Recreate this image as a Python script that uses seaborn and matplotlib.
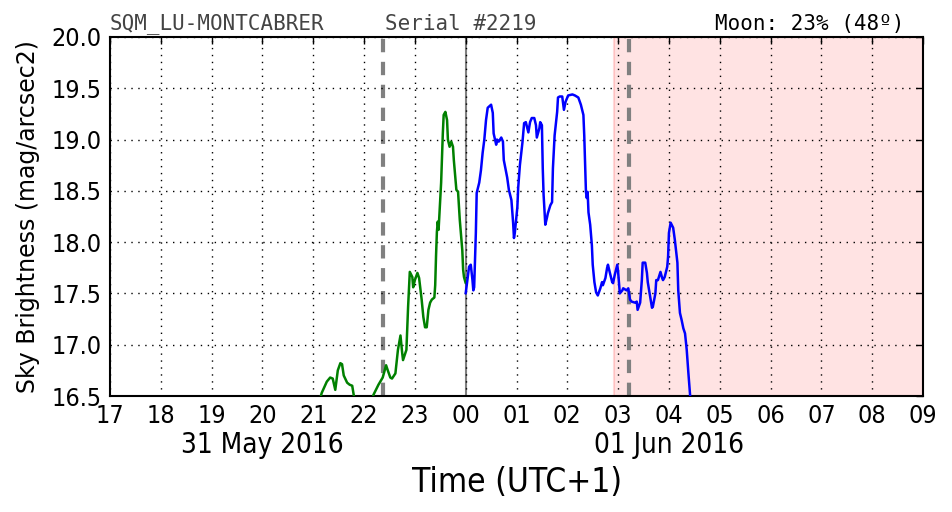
import numpy as np
import pandas as pd
import matplotlib
matplotlib.use("Agg")
import matplotlib.pyplot as plt
import matplotlib.dates as mdates
import matplotlib.transforms as mtransforms
import seaborn as sns

# ---------------- data ----------------
green_times = ["21:07", "21:09", "21:10", "21:16", "21:20", "21:23", "21:26", "21:29", "21:32", "21:34",
               "21:36", "21:40", "21:43", "21:46", "21:48", "21:50", "22:09", "22:11", "22:17", "22:22",
               "22:26", "22:28", "22:31", "22:33", "22:37", "22:40", "22:43", "22:45", "22:46", "22:50",
               "22:52", "22:54", "22:57", "22:58", "23:00", "23:03", "23:05", "23:08", "23:10", "23:12",
               "23:14", "23:16", "23:18", "23:20", "23:23", "23:24", "23:25", "23:26", "23:27", "23:28",
               "23:31", "23:33", "23:34", "23:36", "23:38", "23:39", "23:41", "23:43", "23:45", "23:46",
               "23:49", "23:51", "23:53", "23:56", "23:57", "23:58", "00:00"]
green_vals = [16.40, 16.50, 16.53, 16.64, 16.68, 16.67, 16.56, 16.75, 16.82, 16.81,
              16.70, 16.63, 16.61, 16.60, 16.50, 16.40, 16.40, 16.51, 16.61, 16.68,
              16.80, 16.75, 16.68, 16.67, 16.72, 16.95, 17.09, 16.92, 16.85, 16.95,
              17.37, 17.71, 17.66, 17.56, 17.63, 17.70, 17.65, 17.44, 17.27, 17.17,
              17.17, 17.34, 17.41, 17.44, 17.46, 17.58, 17.87, 18.10, 18.20, 18.12,
              18.58, 19.06, 19.24, 19.27, 19.19, 19.00, 18.93, 18.98, 18.93, 18.80,
              18.51, 18.49, 18.22, 17.92, 17.73, 17.66, 17.60]

blue_times = ["00:00", "00:02", "00:04", "00:06", "00:08", "00:09", "00:10", "00:12", "00:13", "00:16",
              "00:18", "00:20", "00:22", "00:24", "00:26", "00:30", "00:32", "00:33", "00:36", "00:37",
              "00:39", "00:42", "00:44", "00:45", "00:48", "00:49", "00:51", "00:54", "00:56", "00:57",
              "00:58", "01:01", "01:02", "01:04", "01:07", "01:09", "01:11", "01:14", "01:16", "01:18",
              "01:21", "01:23", "01:24", "01:27", "01:28", "01:30", "01:31", "01:32", "01:34", "01:36",
              "01:37", "01:40", "01:42", "01:43", "01:45", "01:48", "01:49", "01:51", "01:54", "01:56",
              "01:58", "02:01", "02:06", "02:09", "02:13", "02:16", "02:19", "02:20", "02:21", "02:22",
              "02:23", "02:24", "02:25", "02:27", "02:29", "02:30", "02:32", "02:34", "02:36", "02:39",
              "02:41", "02:42", "02:45", "02:47", "02:48", "02:50", "02:53", "02:54", "02:56", "02:59",
              "03:00", "03:02", "03:05", "03:06", "03:10", "03:12", "03:14", "03:16", "03:20", "03:22",
              "03:23", "03:26", "03:28", "03:29", "03:32", "03:34", "03:35", "03:38", "03:40", "03:41",
              "03:44", "03:45", "03:47", "03:50", "03:52", "03:53", "03:55", "03:58", "03:59", "04:00",
              "04:02", "04:05", "04:07", "04:10", "04:11", "04:13", "04:15", "04:17", "04:19", "04:21",
              "04:23", "04:25", "04:26"]
blue_vals = [17.50, 17.63, 17.76, 17.78, 17.63, 17.53, 17.56, 18.09, 18.48, 18.58,
             18.70, 18.87, 19.00, 19.19, 19.31, 19.34, 19.26, 19.06, 18.95, 19.00,
             18.98, 19.02, 18.98, 18.80, 18.67, 18.63, 18.51, 18.41, 18.19, 18.04,
             18.09, 18.34, 18.53, 18.75, 18.97, 19.16, 19.17, 19.07, 19.17, 19.21,
             19.21, 19.14, 19.02, 19.11, 19.17, 19.14, 18.72, 18.46, 18.17, 18.24,
             18.28, 18.36, 18.39, 18.72, 19.04, 19.27, 19.41, 19.42, 19.42, 19.29,
             19.37, 19.43, 19.44, 19.43, 19.41, 19.34, 19.24, 19.04, 18.78, 18.49,
             18.43, 18.49, 18.29, 18.17, 17.97, 17.78, 17.61, 17.51, 17.48, 17.55,
             17.61, 17.58, 17.65, 17.75, 17.78, 17.71, 17.61, 17.60, 17.68, 17.78,
             17.71, 17.50, 17.53, 17.55, 17.53, 17.55, 17.44, 17.42, 17.41, 17.42,
             17.34, 17.41, 17.63, 17.80, 17.80, 17.70, 17.61, 17.46, 17.36, 17.37,
             17.50, 17.63, 17.63, 17.71, 17.65, 17.63, 17.66, 17.76, 17.86, 18.09,
             18.19, 18.14, 18.02, 17.80, 17.53, 17.31, 17.24, 17.16, 17.11, 16.95,
             16.72, 16.51, 16.40]

# event markers
twilight_lines = ["22:22", "03:13"]   # dashed gray
midnight_line = "00:00"
shade_start = "02:55"                  # astronomical dawn shading

x_start, x_end = "17:00", "09:00"
y_min, y_max = 16.5, 20.0
y_ticks = [16.5, 17.0, 17.5, 18.0, 18.5, 19.0, 19.5, 20.0]

title_left = "SQM_LU-MONTCABRER"
title_mid = "Serial #2219"
title_right = "Moon: 23% (48º)"
date_labels = [("20:00", "31 May 2016"), ("04:00", "01 Jun 2016")]
xlabel = "Time (UTC+1)"
ylabel = "Sky Brightness (mag/arcsec2)"


def to_dt(hhmm):
    h = int(hhmm.split(":")[0])
    day = "2016-05-31" if h >= 12 else "2016-06-01"
    return pd.Timestamp(f"{day} {hhmm}")


g_df = pd.DataFrame({"time": [to_dt(s) for s in green_times], "mag": green_vals})
b_df = pd.DataFrame({"time": [to_dt(s) for s in blue_times], "mag": blue_vals})

# ---------------- figure ----------------
sns.set_style("white")
plt.rcParams["font.family"] = ["DejaVu Sans"]
plt.rcParams["font.stretch"] = "condensed"
plt.rcParams["text.color"] = "black"
plt.rcParams["axes.labelcolor"] = "black"
plt.rcParams["xtick.color"] = "black"
plt.rcParams["ytick.color"] = "black"

fig = plt.figure(figsize=(9.52, 5.12), dpi=100)
ax = fig.add_axes([110 / 952, 1 - 396 / 512, (923 - 110) / 952, (396 - 37) / 512])

xs = to_dt(x_start)
xe = to_dt(x_end)

ax.axvspan(to_dt(shade_start), xe, facecolor=(1.0, 0.0, 0.0, 0.11),
           edgecolor=(1.0, 0.0, 0.0, 0.15), lw=1.5, zorder=0)

sns.lineplot(data=g_df, x="time", y="mag", ax=ax, color=(0, 0.5, 0), lw=1.8,
             sort=False, estimator=None, zorder=3)
sns.lineplot(data=b_df, x="time", y="mag", ax=ax, color=(0, 0, 1), lw=1.8,
             sort=False, estimator=None, zorder=3)

for t in twilight_lines:
    ax.axvline(to_dt(t), color="gray", lw=3, dashes=(3.2, 2.3), zorder=2)
ax.axvline(to_dt(midnight_line), color="gray", lw=1.5, zorder=2)

ax.set_xlim(xs, xe)
ax.set_ylim(y_min, y_max)
ax.set_yticks(y_ticks)
ax.yaxis.set_major_formatter(matplotlib.ticker.FormatStrFormatter("%.1f"))
ax.xaxis.set_major_locator(mdates.HourLocator())
ax.xaxis.set_major_formatter(mdates.DateFormatter("%H"))

ax.grid(True, color="black", linestyle=(0, (1, 4)), lw=1.0, zorder=1)
ax.set_axisbelow(False)
for sp in ax.spines.values():
    sp.set_color("black")
    sp.set_linewidth(1.5)
    sp.set_visible(True)

ax.tick_params(axis="both", which="major", direction="in", length=5, width=1,
               labelsize=18, pad=6, top=True, right=True, colors="black",
               labelcolor="black")
for lab in ax.get_xticklabels() + ax.get_yticklabels():
    lab.set_fontstretch("condensed")

ax.set_xlabel(xlabel, fontsize=24, fontstretch="condensed", color="black")
ax.xaxis.set_label_coords(0.5, -0.24)
ax.xaxis.label.set_va("center")
ax.set_ylabel(ylabel, fontsize=17, labelpad=8, fontstretch="normal", color="black")

trans = mtransforms.blended_transform_factory(ax.transData, ax.transAxes)
for t, lab in date_labels:
    ax.text(mdates.date2num(to_dt(t)), -0.137, lab, transform=trans, ha="center",
            va="center", fontsize=20, fontstretch="condensed", color="black")

ax.text(0.0, 1.008, title_left, transform=ax.transAxes, ha="left", va="bottom",
        fontsize=15, family="DejaVu Sans Mono", color="#444444")
ax.text(0.338, 1.008, title_mid, transform=ax.transAxes, ha="left", va="bottom",
        fontsize=15, family="DejaVu Sans Mono", color="#444444")
ax.text(0.977, 1.008, title_right, transform=ax.transAxes, ha="right", va="bottom",
        fontsize=15, family="DejaVu Sans Mono", color="black")

fig.savefig("out.png", dpi=100)
